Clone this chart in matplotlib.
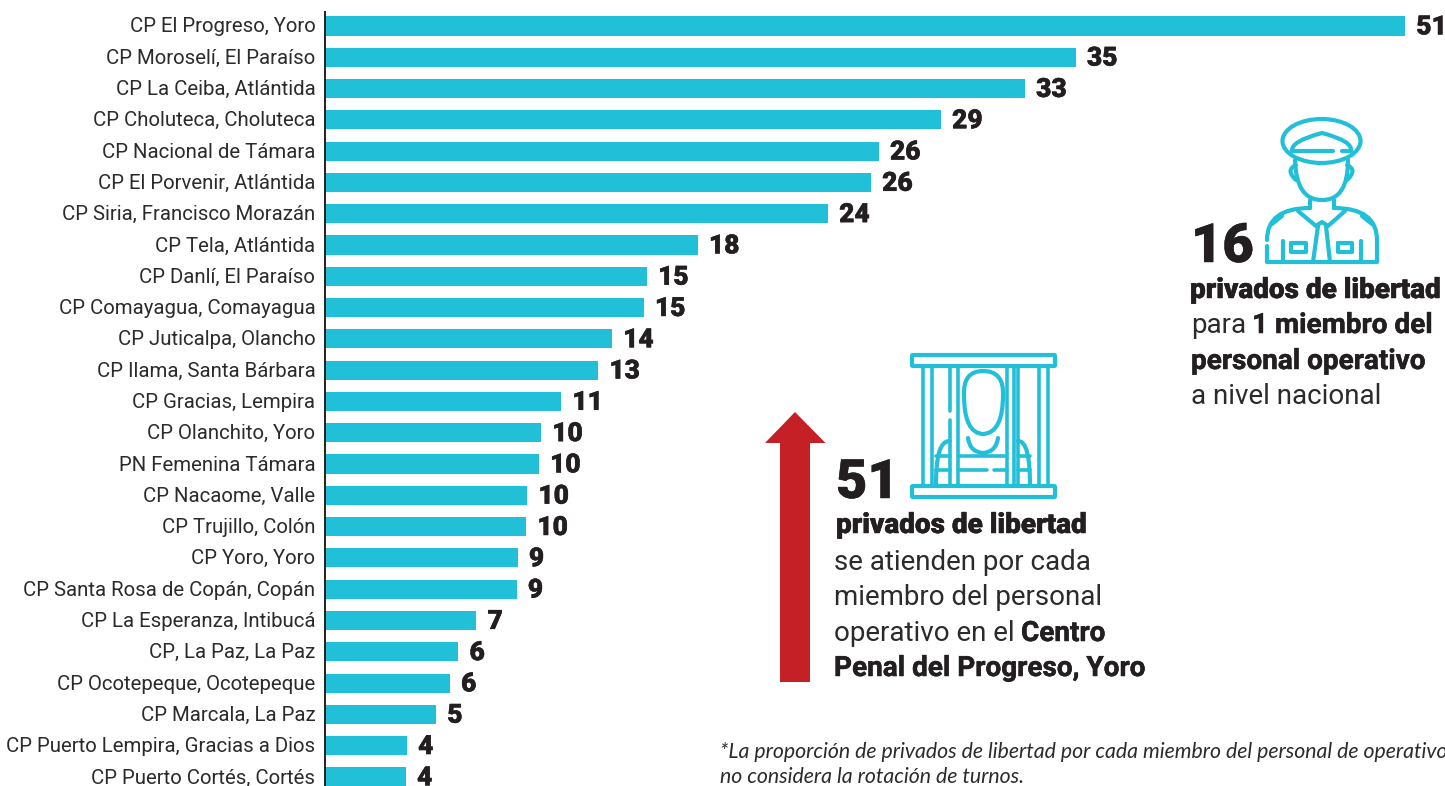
import matplotlib
matplotlib.use("Agg")
import matplotlib.pyplot as plt
import matplotlib.patheffects as pe
from matplotlib.path import Path
from matplotlib.patches import PathPatch, Ellipse, Polygon, FancyBboxPatch
from matplotlib.transforms import ScaledTranslation

plt.rcParams['font.family'] = ['Roboto', 'DejaVu Sans']

categories = ["CP El Progreso, Yoro", "CP Moroselí, El Paraíso", "CP La Ceiba, Atlántida",
              "CP Choluteca, Choluteca", "CP Nacional de Támara", "CP El Porvenir, Atlántida",
              "CP Siria, Francisco Morazán", "CP Tela, Atlántida", "CP Danlí, El Paraíso",
              "CP Comayagua, Comayagua", "CP Juticalpa, Olancho", "CP Ilama, Santa Bárbara",
              "CP Gracias, Lempira", "CP Olanchito, Yoro", "PN Femenina Támara",
              "CP Nacaome, Valle", "CP Trujillo, Colón", "CP Yoro, Yoro",
              "CP Santa Rosa de Copán, Copán", "CP La Esperanza, Intibucá", "CP, La Paz, La Paz",
              "CP Ocotepeque, Ocotepeque", "CP Marcala, La Paz", "CP Puerto Lempira, Gracias a Dios",
              "CP Puerto Cortés, Cortés"]
values = [51.0, 35.45, 33.05, 29.08, 26.15, 25.78, 23.75, 17.6, 15.2, 15.05, 13.55, 12.9,
          11.15, 10.2, 10.1, 9.55, 9.5, 9.1, 9.05, 7.15, 6.3, 5.9, 5.25, 3.87, 3.82]
value_labels = [51, 35, 33, 29, 26, 26, 24, 18, 15, 15, 14, 13, 11, 10, 10, 10, 10, 9, 9, 7, 6, 6, 5, 4, 4]

W, H = 1445, 786
BAR = "#22c0d8"
DARK = "#231f20"
RED = "#c42026"
TXT = "#2b2b2d"
heavy = [pe.withStroke(linewidth=0.35, foreground=DARK)]

fig = plt.figure(figsize=(W / 100, H / 100), dpi=100, facecolor="white")

# bar axes
ax_l, ax_t, ax_b = 325, 12, 786
ax = fig.add_axes([ax_l / W, (H - ax_b) / H, (W - ax_l) / W, (ax_b - ax_t) / H])
ys = list(range(len(categories)))
ax.barh(ys, values, height=0.61, color=BAR, linewidth=0)
ax.set_xlim(0, (W - ax_l) / 21.18)
ax.set_ylim(24.29, -0.447)
ax.set_yticks(ys, categories, fontsize=14.7, color=TXT)
ax.tick_params(axis="y", length=0, pad=7)
shift = ScaledTranslation(0, 1 / 100, fig.dpi_scale_trans)
for lab in ax.get_yticklabels():
    lab.set_transform(lab.get_transform() + shift)
ax.set_xticks([])
for s in ["top", "right", "bottom"]:
    ax.spines[s].set_visible(False)
ax.spines["left"].set_color(DARK)
ax.spines["left"].set_linewidth(1.4)
for y, v, lab in zip(ys, values, value_labels):
    ax.annotate(str(lab), (v, y), xytext=(8, -1), textcoords="offset points",
                va="center", ha="left", fontsize=19, fontweight="black", color=DARK,
                annotation_clip=False, path_effects=heavy)

# overlay in pixel space for the annotations
ov = fig.add_axes([0, 0, 1, 1], facecolor="none")
ov.set_xlim(0, W)
ov.set_ylim(H, 0)
ov.axis("off")


def txt(x, y, s, size=20, weight="normal", color=TXT, effects=None):
    return ov.text(x, y, s, fontsize=size, fontweight=weight, color=color,
                   ha="left", va="baseline", path_effects=effects)


def stroke(pts, codes=None, lw=3.0):
    if codes is None:
        codes = [Path.MOVETO] + [Path.LINETO] * (len(pts) - 1)
    ov.add_patch(PathPatch(Path(pts, codes), fill=False, edgecolor=BAR, linewidth=lw,
                           capstyle="round", joinstyle="round"))


C3 = Path.CURVE3
C4 = Path.CURVE4
M = Path.MOVETO
L = Path.LINETO

# red arrow
ov.add_patch(Polygon([(795, 412), (825.5, 443), (810, 443), (810, 682), (780, 682),
                      (780, 443), (765, 443)], closed=True, facecolor=RED, edgecolor="none"))

# text block: Progreso
txt(836, 498, "51", size=39, weight="black", color=DARK, effects=heavy)
txt(836, 533, "privados de libertad", size=20.1, weight="black", color=DARK, effects=heavy)
txt(834, 570, "se atienden por cada")
txt(834, 605, "miembro del personal")
txt(834, 641, "operativo en el")
txt(1021, 641, "Centro", size=20.1, weight="bold", color=DARK, effects=heavy)
txt(834, 676, "Penal del Progreso, Yoro", size=20.1, weight="bold", color=DARK, effects=heavy)

# text block: national
txt(1191, 262, "16", size=39, weight="black", color=DARK, effects=heavy)
txt(1190, 298, "privados de libertad", size=20.1, weight="black", color=DARK, effects=heavy)
txt(1191, 333, "para")
txt(1252, 333, "1 miembro del", size=20.1, weight="bold", color=DARK, effects=heavy)
txt(1191, 369, "personal operativo", size=20.1, weight="bold", color=DARK, effects=heavy)
txt(1191, 404, "a nivel nacional")

# footnote
ov.text(720, 758, "*La proporción de privados de libertad por cada miembro del personal de operativo",
        fontsize=15.3, style="italic", family="Lato", color=TXT, clip_on=True)
ov.text(720, 783, "no considera la rotación de turnos.",
        fontsize=15.3, style="italic", family="Lato", color=TXT)

# prison icon
for y0 in (355, 486):
    ov.add_patch(FancyBboxPatch((912, y0), 143, 11, boxstyle="round,pad=0,rounding_size=1",
                                fill=False, edgecolor=BAR, linewidth=3))
for xb in (923, 932, 1014, 1018, 1039, 1048):
    stroke([(xb, 367), (xb, 486)], lw=2.6)
stroke([(950, 367), (950, 411)], lw=2.6)
stroke([(950, 420), (950, 486)], lw=2.6)
stroke([(958, 367), (958, 486)], lw=2.6)
stroke([(1007, 367), (1007, 486)], lw=2.6)
ov.add_patch(PathPatch(Path([(964, 395), (963, 371), (983, 371), (1004, 371), (1003, 395),
                             (1003, 433), (983, 434), (964, 433), (964, 395)],
                            [M, C3, C3, C3, C3, C3, C3, C3, C3]),
                       fill=False, edgecolor=BAR, linewidth=3))
stroke([(968, 438), (970, 452), (983, 453), (996, 452), (998, 438)], [M, C3, C3, C3, C3])
stroke([(936, 486), (936, 455), (940, 441), (950, 441)], [M, C4, C4, C4])
stroke([(1030, 486), (1030, 455), (1026, 441), (1018, 441)], [M, C4, C4, C4])
stroke([(936, 456), (950, 456)], lw=2.6)
stroke([(936, 470), (950, 470)], lw=2.6)
stroke([(958, 456), (1007, 456)], lw=2.6)
stroke([(958, 470), (987, 470)], lw=2.6)
stroke([(994, 470), (1007, 470)], lw=2.6)
stroke([(1018, 456), (1030, 456)], lw=2.6)
stroke([(1018, 470), (1030, 470)], lw=2.6)

# officer icon
ov.add_patch(Ellipse((1321.5, 141), 78, 44, fill=False, edgecolor=BAR, linewidth=3))
stroke([(1292, 151), (1291, 141), (1322, 133), (1353, 141), (1351, 151)], [M, C3, C3, C3, C3])
stroke([(1293, 151), (1333, 151)])
stroke([(1342, 151), (1349, 151)])
stroke([(1295, 160), (1296, 186), (1304, 200), (1322, 200), (1340, 200), (1348, 186), (1348, 160)],
       [M, C4, C4, C4, C4, C4, C4])
stroke([(1296, 165), (1285, 170), (1296, 180)], [M, C3, C3])
stroke([(1347, 165), (1358, 170), (1347, 180)], [M, C3, C3])
stroke([(1310, 200), (1310, 208)])
stroke([(1334, 200), (1334, 208)])
stroke([(1310, 208), (1267, 208), (1267, 240)], [M, C3, C3])
stroke([(1334, 208), (1377, 208), (1377, 240), (1377, 262), (1267, 262), (1267, 246)], [M, C3, C3, L, L, L])
stroke([(1298, 211), (1316, 226), (1322, 222), (1328, 226), (1345, 211)])
stroke([(1318, 226), (1313, 262)])
stroke([(1326, 226), (1330, 262)])
stroke([(1283, 241), (1283, 261)])
stroke([(1361, 241), (1361, 261)])
stroke([(1291, 243), (1306, 243), (1306, 252), (1291, 252), (1291, 243)])
stroke([(1338, 243), (1352, 243), (1352, 252), (1338, 252), (1338, 243)])
stroke([(1272, 224), (1282, 216)])
stroke([(1362, 216), (1372, 224)])

fig.savefig("out.png", dpi=100, facecolor="white")
